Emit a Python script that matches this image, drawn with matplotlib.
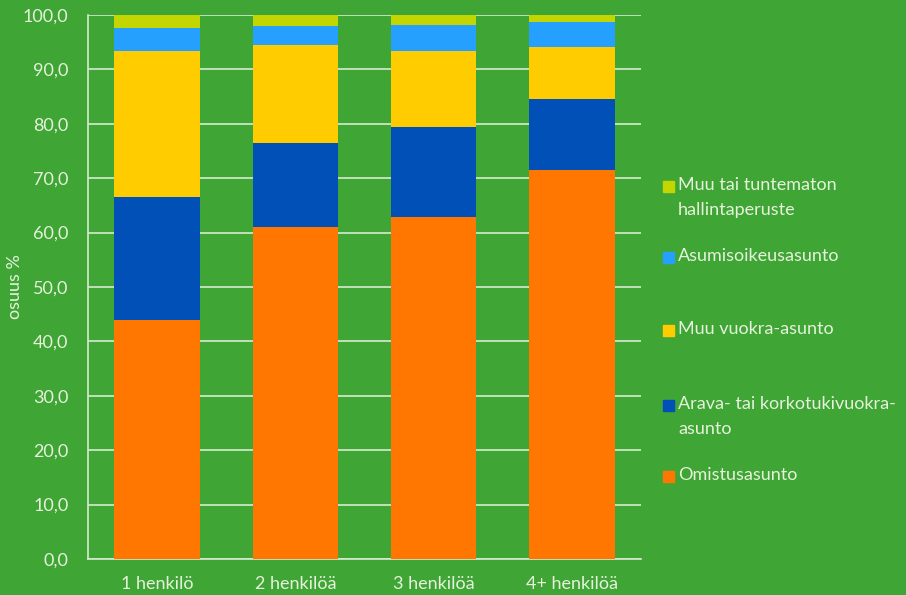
import numpy as np
import matplotlib.pyplot as plt
from matplotlib.patches import Rectangle
from matplotlib.ticker import FuncFormatter

plt.rcParams['font.family'] = ['Lato', 'DejaVu Sans']

categories = ['1 henkilö', '2 henkilöä', '3 henkilöä', '4+ henkilöä']
omistus = [43.9, 61.0, 62.9, 71.5]
arava = [22.6, 15.5, 16.5, 13.0]
muu_vuokra = [26.8, 17.9, 13.9, 9.7]
asumisoikeus = [4.4, 3.6, 4.9, 4.5]
muu_tuntematon = [2.3, 2.0, 1.8, 1.3]

series = [
    ('Omistusasunto', omistus, '#FF7700'),
    ('Arava- tai korkotukivuokra-\nasunto', arava, '#0050B8'),
    ('Muu vuokra-asunto', muu_vuokra, '#FFCC00'),
    ('Asumisoikeusasunto', asumisoikeus, '#26A0FF'),
    ('Muu tai tuntematon\nhallintaperuste', muu_tuntematon, '#C4D600'),
]

BG = '#3FA535'
TXT = '#E6F2DC'
GRID = '#D8EBD0'
FS = 13

fig = plt.figure(figsize=(9.06, 5.95), dpi=100, facecolor=BG)
ax = fig.add_axes([88 / 906, 36 / 595, 553 / 906, 544 / 595])
ax.set_facecolor(BG)

x = np.arange(len(categories))
bottom = np.zeros(len(categories))
for label, vals, col in series:
    ax.bar(x, vals, width=0.62, bottom=bottom, color=col, edgecolor='none', zorder=3)
    bottom += np.array(vals)

ax.set_xlim(-0.5, len(categories) - 0.5)
ax.set_ylim(0, 100)
ax.set_yticks(np.arange(0, 101, 10))
ax.yaxis.set_major_formatter(FuncFormatter(lambda v, p: f'{v:.1f}'.replace('.', ',')))
ax.set_xticks(x)
ax.set_xticklabels(categories)
ax.grid(axis='y', color=GRID, lw=1.2, zorder=1)
ax.tick_params(colors=TXT, labelsize=FS, length=0, pad=14)
ax.tick_params(axis='x', pad=12)
for s in ['top', 'right']:
    ax.spines[s].set_visible(False)
for s in ['left', 'bottom']:
    ax.spines[s].set_color(GRID)
    ax.spines[s].set_linewidth(1.2)
ax.set_ylabel('osuus %', color=TXT, fontsize=FS)
ax.yaxis.set_label_coords(-65 / 553, 0.5)

# legend, entries spaced like the original (top entry first)
legend_y = [476, 405, 330, 257, 186]
for (label, vals, col), yy in zip(series, legend_y):
    fig.patches.append(Rectangle((663 / 906, (595 - yy - 6) / 595), 11 / 906, 11 / 595,
                                 transform=fig.transFigure, color=col))
    fig.text(678 / 906, (595 - yy + 9) / 595, label, color=TXT, fontsize=FS,
             va='top', ha='left', linespacing=1.7, transform=fig.transFigure)

fig.savefig('out.png', dpi=100, facecolor=BG)
